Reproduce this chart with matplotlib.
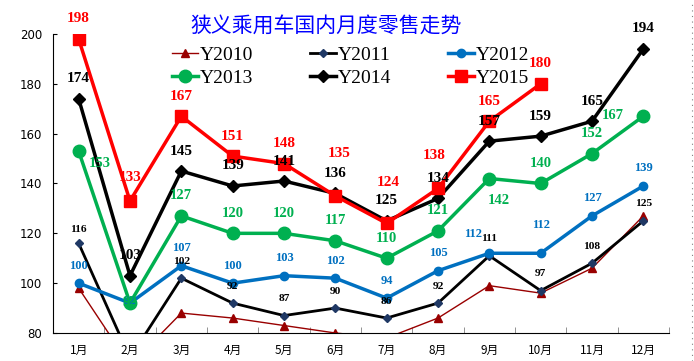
import numpy as np
import matplotlib
matplotlib.use('Agg')
from matplotlib import pyplot as plt

plt.rcParams['font.family'] = ['Noto Sans CJK SC', 'DejaVu Sans']

months = ['1月', '2月', '3月', '4月', '5月', '6月', '7月', '8月', '9月', '10月', '11月', '12月']
y2010 = [98, 67, 88, 86, 83, 80, 78, 86, 99, 96, 106, 127]
y2011 = [116, 70, 102, 92, 87, 90, 86, 92, 111, 97, 108, 125]
y2012 = [100, 92, 107, 100, 103, 102, 94, 105, 112, 112, 127, 139]
y2013 = [153, 92, 127, 120, 120, 117, 110, 121, 142, 140, 152, 167]
y2014 = [174, 103, 145, 139, 141, 136, 125, 134, 157, 159, 165, 194]
y2015 = [198, 133, 167, 151, 148, 135, 124, 138, 165, 180]

title = '狭义乘用车国内月度零售走势'

fig = plt.figure(figsize=(6.94, 3.61), dpi=100)
ax = fig.add_axes([53 / 694, 1 - 333 / 361, 616 / 694, 299 / 361])

x = np.arange(len(months))
serif = 'Liberation Serif'

# name, values, line colour, lw, marker, size, marker colour, label colour, label size, label offset (px)
series = [
    ('Y2010', y2010, '#990000', 1.0, '^', 6, '#990000', None, 0, 0),
    ('Y2011', y2011, 'black', 2.0, 'D', 4.5, '#1F3864', '#000000', 8.2, 17),
    ('Y2012', y2012, '#0070C0', 2.5, 'o', 6, '#0070C0', '#0070C0', 9, 17.5),
    ('Y2013', y2013, '#00B050', 2.5, 'o', 9, '#00B050', '#00B050', 10.5, 20),
    ('Y2014', y2014, 'black', 2.5, 'D', 6, 'black', 'black', 11, 20),
    ('Y2015', y2015, '#FF0000', 2.5, 's', 9, '#FF0000', '#FF0000', 11, 20),
]

# labels that the original chart moved by hand: (series, month index) -> (dx, dy) px
moved = {
    ('Y2011', 0): (0, 14),
    ('Y2012', 1): (0, 2),
    ('Y2012', 8): (-16, 19),
    ('Y2012', 9): (0, 28),
    ('Y2013', 0): (21, -12),
    ('Y2013', 1): (0, 1),
    ('Y2013', 8): (10, -22),
    ('Y2013', 11): (-31, 1),
    ('Y2015', 1): (0, 23),
    ('Y2015', 5): (4, 42),
    ('Y2015', 6): (2, 41),
    ('Y2015', 7): (-4, 33),
}

handles = {}
for name, vals, col, lw, mk, ms, mcol, tcol, fs, off in series:
    xs = x[:len(vals)]
    h, = ax.plot(xs, vals, color=col, lw=lw, marker=mk, ms=ms,
                 markerfacecolor=mcol, markeredgecolor=mcol, label=name)
    handles[name] = h
    if tcol is None:
        continue
    for xi, v in zip(xs, vals):
        if v < 80:
            continue
        dx, dy = moved.get((name, xi), (0, off))
        ax.annotate(str(v), (xi, v), xytext=(dx * 0.72, dy * 0.72), textcoords='offset points',
                    ha='center', va='center', color=tcol,
                    fontsize=fs, fontweight='bold', family=serif)

ax.set_xlim(-0.5, 11.5)
ax.set_ylim(80, 200)
ax.set_yticks(range(80, 201, 20))
ax.set_xticks(x)
ax.set_xticklabels(months, fontsize=8.5)
ax.set_xticks(np.arange(-0.5, 12, 1), minor=True)
ax.tick_params(axis='x', which='major', length=0, pad=8)
ax.tick_params(axis='x', which='minor', direction='in', length=4, color='gray')
ax.tick_params(axis='y', direction='in', length=3, labelsize=8.5, pad=8)
for lab in ax.get_yticklabels():
    lab.set_family('DejaVu Sans')
ax.spines['top'].set_visible(False)
ax.spines['right'].set_visible(False)

fig.text(0.47, 0.93, title, color='#0000FF', fontsize=15, ha='center', va='center')

order = ['Y2010', 'Y2013', 'Y2011', 'Y2014', 'Y2012', 'Y2015']
ax.legend([handles[n] for n in order], order, ncol=3, loc='upper left',
          bbox_to_anchor=((172 - 53) / 616, 0.958), frameon=False,
          prop={'family': serif, 'size': 14}, handlelength=1.34, handletextpad=0.1,
          columnspacing=2.9, labelspacing=0.25, borderaxespad=0, borderpad=0)

fig.add_artist(plt.Line2D([692 / 694, 692 / 694], [0, 1], color='gray', lw=0.8,
                          ls=(0, (1, 4))))

fig.savefig('out.png', dpi=100)
